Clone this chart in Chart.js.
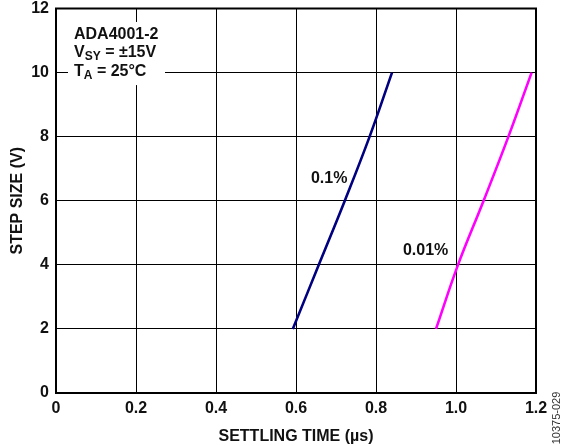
<!DOCTYPE html>
<html>
<head>
<meta charset="utf-8">
<script src="https://cdn.jsdelivr.net/npm/chart.js@4/dist/chart.umd.min.js"></script>
<style>
  html, body { margin: 0; padding: 0; background: #fff; }
  #wrap { width: 561px; height: 446px; position: relative; }
</style>
</head>
<body>
<div id="wrap"><canvas id="chart"></canvas></div>
<script>
// data
const xTicks = [0, 0.2, 0.4, 0.6, 0.8, 1.0, 1.2];
const yTicks = [0, 2, 4, 6, 8, 10, 12];

const stepSize = [2, 4, 6, 8, 10];
const settle01 = [0.592, 0.657, 0.722, 0.784, 0.840];
const settle001 = [0.950, 1.005, 1.069, 1.131, 1.189];

const seriesLabels = ['0.1%', '0.01%'];
const seriesLabelPos = [[0.683, 6.7], [0.924, 4.45]];

const FONT = '"Liberation Sans", Arial, Helvetica, sans-serif';

function toPoints(xs, ys) {
    return xs.map(function(x, i) { return { x: x, y: ys[i] }; });
}

// text and white box drawn over the plot
const overlay = {
    id: 'overlay',
    afterDatasetsDraw: function(chart) {
        const ctx = chart.ctx;
        const xs = chart.scales.x;
        const ys = chart.scales.y;
        const area = chart.chartArea;

        // frame
        ctx.save();
        ctx.strokeStyle = '#000';
        ctx.lineWidth = 2;
        ctx.strokeRect(area.left, area.top, area.right - area.left, area.bottom - area.top);

        // condition box
        const bx0 = xs.getPixelForValue(0.03), bx1 = xs.getPixelForValue(0.2725);
        const by0 = ys.getPixelForValue(11.58), by1 = ys.getPixelForValue(9.61);
        ctx.fillStyle = '#fff';
        ctx.fillRect(bx0, by0, bx1 - bx0, by1 - by0);

        ctx.fillStyle = '#111';
        ctx.textBaseline = 'middle';
        ctx.textAlign = 'left';
        const tx = xs.getPixelForValue(0.045);
        ctx.font = 'bold 16px ' + FONT;
        ctx.fillText('ADA4001-2', tx, ys.getPixelForValue(11.2));

        function subLine(main, sub, rest, yv) {
            const y = ys.getPixelForValue(yv);
            ctx.font = 'bold 16px ' + FONT;
            ctx.fillText(main, tx, y);
            let w = ctx.measureText(main).width;
            ctx.font = 'bold 12px ' + FONT;
            ctx.fillText(sub, tx + w, y + 4);
            w += ctx.measureText(sub).width;
            ctx.font = 'bold 16px ' + FONT;
            ctx.fillText(rest, tx + w, y);
        }
        subLine('V', 'SY', ' = \u00b115V', 10.61);
        subLine('T', 'A', ' = 25\u00b0C', 10.02);

        // series labels
        ctx.textAlign = 'center';
        ctx.font = 'bold 16px ' + FONT;
        seriesLabels.forEach(function(t, i) {
            ctx.fillText(t, xs.getPixelForValue(seriesLabelPos[i][0]), ys.getPixelForValue(seriesLabelPos[i][1]));
        });

        // figure id
        ctx.translate(chart.width - 4, 418);
        ctx.rotate(-Math.PI / 2);
        ctx.font = '11px ' + FONT;
        ctx.fillStyle = '#333';
        ctx.fillText('10375-029', 0, 0);
        ctx.restore();
    }
};

const chart = new Chart(document.getElementById('chart'), {
    type: 'scatter',
    data: {
        datasets: [
            {
                label: '0.1%',
                data: toPoints(settle01, stepSize),
                showLine: true,
                borderColor: '#000080',
                borderWidth: 2.6,
                pointRadius: 0,
                tension: 0.4
            },
            {
                label: '0.01%',
                data: toPoints(settle001, stepSize),
                showLine: true,
                borderColor: '#ff00ff',
                borderWidth: 2.6,
                pointRadius: 0,
                tension: 0.4
            }
        ]
    },
    options: {
        responsive: true,
        maintainAspectRatio: false,
        animation: false,
        layout: { padding: { top: 0, right: 25, left: 0, bottom: 0 } },
        plugins: {
            legend: { display: false },
            tooltip: { enabled: false }
        },
        scales: {
            x: {
                type: 'linear',
                min: 0,
                max: 1.2,
                afterBuildTicks: function(scale) {
                    scale.ticks = xTicks.map(function(v) { return { value: v }; });
                },
                afterFit: function(scale) { scale.height = 53; },
                ticks: {
                    color: '#111',
                    font: { family: FONT, size: 16, weight: 'bold' },
                    padding: 6,
                    maxRotation: 0,
                    callback: function(v) { return v === 0 ? '0' : v.toFixed(1); }
                },
                grid: { color: '#000', lineWidth: 1, drawTicks: false },
                border: { display: false },
                title: {
                    display: true,
                    text: 'SETTLING TIME (\u00b5s)',
                    color: '#111',
                    font: { family: FONT, size: 16, weight: 'bold' },
                    padding: { top: 1, bottom: 0 }
                }
            },
            y: {
                type: 'linear',
                min: 0,
                max: 12,
                afterBuildTicks: function(scale) {
                    scale.ticks = yTicks.map(function(v) { return { value: v }; });
                },
                afterFit: function(scale) {
                    scale.width = 56;
                    scale.paddingTop = 8.5;
                },
                ticks: {
                    color: '#111',
                    font: { family: FONT, size: 16, weight: 'bold' },
                    padding: 7
                },
                grid: { color: '#000', lineWidth: 1, drawTicks: false },
                border: { display: false },
                title: {
                    display: true,
                    text: 'STEP SIZE (V)',
                    color: '#111',
                    font: { family: FONT, size: 16, weight: 'bold' },
                    padding: { top: 8, bottom: 0 }
                }
            }
        }
    },
    plugins: [overlay]
});
</script>
</body>
</html>
